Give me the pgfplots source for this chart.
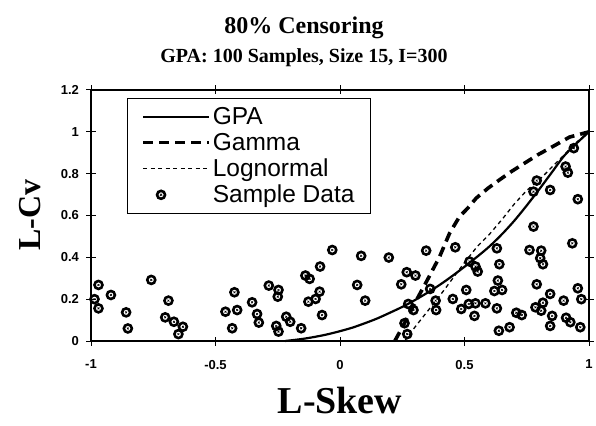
\documentclass[border=0pt]{standalone}
\usepackage{fontspec}
\setmainfont{Liberation Serif}
\setsansfont{Liberation Sans}
\usepackage{pgfplots}
\usepackage{pgfplotstable}
\pgfplotsset{compat=1.18}

\pgfplotstableread{
x y
-0.97 0.268
-0.986 0.20
-0.97 0.156
-0.92 0.22
-0.859 0.137
-0.852 0.06
-0.758 0.292
-0.689 0.193
-0.702 0.113
-0.667 0.092
-0.631 0.068
-0.649 0.033
-0.031 0.435
-0.08 0.356
-0.139 0.313
-0.122 0.297
-0.286 0.265
-0.247 0.244
-0.25 0.212
-0.424 0.233
-0.353 0.185
-0.46 0.14
-0.413 0.148
-0.333 0.129
-0.326 0.088
-0.433 0.061
-0.082 0.236
-0.098 0.201
-0.127 0.188
-0.072 0.124
-0.216 0.116
-0.2 0.092
-0.256 0.072
-0.247 0.045
-0.156 0.061
0.085 0.407
0.196 0.399
0.346 0.432
0.463 0.448
0.069 0.268
0.101 0.193
0.246 0.271
0.268 0.329
0.303 0.313
0.362 0.249
0.274 0.177
0.295 0.148
0.259 0.085
0.27 0.033
0.384 0.193
0.386 0.148
0.453 0.201
0.487 0.153
0.507 0.244
0.52 0.38
0.544 0.356
0.553 0.332
0.63 0.443
0.761 0.435
0.808 0.432
0.804 0.396
0.815 0.367
0.933 0.467
0.64 0.367
0.634 0.289
0.62 0.239
0.651 0.244
0.79 0.271
0.844 0.225
0.898 0.193
0.955 0.252
0.969 0.2
0.517 0.177
0.544 0.18
0.584 0.18
0.63 0.156
0.54 0.12
0.708 0.135
0.73 0.124
0.785 0.161
0.815 0.183
0.808 0.145
0.852 0.12
0.844 0.072
0.908 0.111
0.925 0.09
0.965 0.066
0.638 0.049
0.681 0.066
0.939 0.922
0.906 0.834
0.915 0.805
0.79 0.767
0.777 0.714
0.844 0.722
0.955 0.678
0.777 0.547
}\sampledata

\pgfplotsset{
  lineleg/.style={legend image code/.code={\draw[##1] (0pt,0pt) -- (66pt,0pt);}},
  markleg/.style={legend image code/.code={\path[draw=none] (0pt,0pt) -- (66pt,0pt);
     \draw[black, line width=2.6pt] (18pt,0pt) circle (4pt);
     \draw[black, line width=0.6pt] (16.8pt,-1.2pt) -- (19.2pt,1.2pt) (16.8pt,1.2pt) -- (19.2pt,-1.2pt);}},
}

\begin{document}
\begin{tikzpicture}
\begin{axis}[
  at={(0,0)}, anchor=south west, scale only axis,
  width=498pt, height=251pt,
  xmin=-1, xmax=1, ymin=0, ymax=1.2,
  xtick={-1,-0.5,0,0.5,1}, xticklabels={-1,-0.5,0,0.5,1},
  ytick={0,0.2,0.4,0.6,0.8,1,1.2}, yticklabels={0,0.2,0.4,0.6,0.8,1,1.2},
  tick align=center, major tick length=9pt,
  tick style={black, line width=1pt},
  axis line style={line width=2pt},
  ticklabel style={font=\sffamily\bfseries\fontsize{13}{13}\selectfont},
  xticklabel style={yshift=-11pt}, yticklabel style={xshift=-4pt},
  clip=false,
  legend style={at={(0.072,0.968)}, anchor=north west, draw=black, line width=0.8pt,
    font=\sffamily\fontsize{24.5}{24.5}\selectfont, row sep=3.1pt, inner xsep=14pt, inner ysep=7pt},
  legend cell align=left,
]
\addplot[black, line width=2.2pt, smooth, lineleg] coordinates {
(-0.22,0) (-0.15,0.01) (-0.1,0.02) (-0.05,0.032) (0,0.047) (0.05,0.064) (0.1,0.085) (0.15,0.108) (0.2,0.135) (0.25,0.163) (0.3,0.195) (0.35,0.23) (0.4,0.268) (0.45,0.31) (0.5,0.355) (0.55,0.402) (0.6,0.452) (0.65,0.51) (0.7,0.575) (0.75,0.648) (0.8,0.725) (0.85,0.805) (0.9,0.885) (0.95,0.945) (1,1)
};
\addlegendentry{GPA}
\addplot[black, line width=3.6pt, dash pattern=on 10pt off 6pt, lineleg] coordinates {
(0.22,0) (0.25,0.065) (0.3,0.18) (0.35,0.29) (0.4,0.403) (0.44,0.515) (0.48,0.595) (0.513,0.635) (0.547,0.683) (0.594,0.73) (0.64,0.77) (0.688,0.81) (0.741,0.85) (0.794,0.89) (0.855,0.93) (0.922,0.975) (1,1)
};
\addlegendentry{Gamma}
\addplot[black, line width=1.3pt, dash pattern=on 4pt off 3.5pt, lineleg] coordinates {
(0.26,0) (0.3,0.065) (0.35,0.14) (0.4,0.215) (0.45,0.295) (0.5,0.375) (0.55,0.45) (0.6,0.51) (0.65,0.58) (0.7,0.655) (0.75,0.72) (0.8,0.77) (0.85,0.83) (0.9,0.89) (0.95,0.95) (1,1)
};
\addlegendentry{Lognormal}
\addplot[only marks, mark=o, mark size=4pt, mark options={draw=black, fill=white, line width=2.6pt}, markleg] table {\sampledata};
\addlegendentry{Sample Data}
\addplot[only marks, mark=x, mark size=1.3pt, mark options={draw=black, line width=0.6pt}, forget plot] table {\sampledata};
\end{axis}
\node[font=\bfseries\fontsize{24}{24}\selectfont] at (213pt,313pt) {80\% Censoring};
\node[font=\bfseries\fontsize{20}{20}\selectfont] at (213pt,283pt) {GPA: 100 Samples, Size 15, I=300};
\node[font=\bfseries\fontsize{32}{32}\selectfont, rotate=90] at (-61pt,126pt) {L-Cv};
\node[font=\bfseries\fontsize{38}{38}\selectfont] at (249pt,-60pt) {L-Skew};
\pgfresetboundingbox
\path[use as bounding box] (-91pt,-84pt) rectangle (505pt,341pt);
\end{tikzpicture}
\end{document}
